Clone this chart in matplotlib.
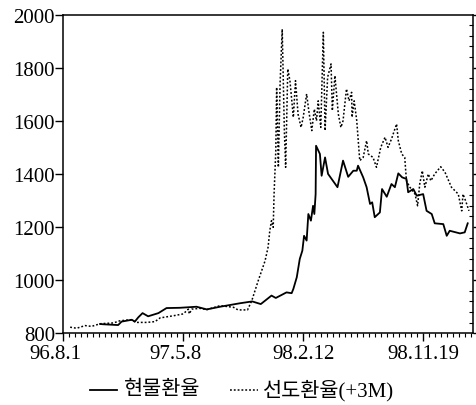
import matplotlib
matplotlib.use("Agg")
import matplotlib.pyplot as plt
from matplotlib.lines import Line2D
from matplotlib.transforms import ScaledTranslation
from matplotlib.ticker import MultipleLocator, FixedLocator

plt.rcParams['font.family'] = ['Liberation Serif', 'Noto Sans CJK KR']

# x positions are calendar days counted from 1996-08-01
tick_days = [0, 280, 560, 840]
tick_labels = ["96.8.1", "97.5.8", "98.2.12", "98.11.19"]

spot_name = "현물환율"
fwd_name = "선도환율(+3M)"

spot_days = [86, 93, 128, 136, 160, 167, 175, 185, 198, 222, 241, 272, 311, 335,
             366, 412, 441, 461, 486, 496, 521, 533, 537, 545, 552, 558, 562, 568,
             572, 578, 583, 586, 589, 590, 599, 603, 611, 618, 640, 653, 665, 677,
             685, 688, 700, 708, 716, 721, 727, 739, 744, 755, 766, 774, 782, 791,
             801, 805, 817, 825, 840, 848, 860, 867, 887, 895, 902, 926, 937, 944]
spot_rate = [835, 834, 831, 844, 851, 844, 860, 876, 864, 876, 895, 896, 900, 890,
             900, 913, 920, 910, 942, 933, 954, 951, 967, 1011, 1080, 1111, 1167, 1149,
             1249, 1224, 1280, 1249, 1324, 1506, 1475, 1393, 1462, 1400, 1350, 1450, 1389, 1412,
             1412, 1431, 1387, 1350, 1287, 1293, 1237, 1255, 1343, 1314, 1362, 1350, 1402, 1387,
             1381, 1331, 1343, 1318, 1324, 1261, 1249, 1214, 1211, 1167, 1186, 1176, 1180, 1214]

fwd_days = [16, 31, 51, 66, 86, 117, 132, 156, 171, 195, 214, 226, 257, 280, 292, 294,
            300, 319, 335, 366, 397, 408, 420, 430, 440, 455, 471, 478, 482, 486, 490,
            492, 496, 498, 502, 506, 511, 516, 519, 524, 529, 537, 542, 548, 555, 560,
            568, 573, 580, 586, 591, 595, 601, 607, 611, 617, 625, 628, 634, 642, 648,
            653, 661, 667, 673, 674, 679, 685, 692, 700, 708, 712, 723, 731, 741, 751,
            758, 766, 778, 782, 790, 797, 801, 809, 821, 827, 832, 838, 844, 852, 858,
            867, 881, 891, 906, 922, 930, 933, 939, 947]
fwd_rate = [823, 819, 829, 826, 836, 839, 847, 851, 841, 841, 844, 858, 866, 873, 891, 873,
            891, 894, 889, 904, 898, 888, 888, 888, 923, 998, 1073, 1124, 1186, 1224, 1199,
            1324, 1487, 1726, 1425, 1738, 1945, 1563, 1425, 1795, 1751, 1613, 1751, 1625, 1575, 1613,
            1701, 1638, 1563, 1644, 1600, 1675, 1575, 1933, 1563, 1764, 1814, 1638, 1770, 1625, 1575,
            1600, 1720, 1675, 1707, 1613, 1675, 1600, 1450, 1462, 1525, 1475, 1462, 1425, 1500, 1538,
            1500, 1531, 1588, 1525, 1475, 1462, 1374, 1350, 1324, 1280, 1362, 1412, 1350, 1400, 1374,
            1400, 1427, 1406, 1350, 1324, 1261, 1324, 1299, 1261]

W, H = 477, 406
fig = plt.figure(figsize=(W / 100, H / 100), dpi=100)
ax = fig.add_axes([0.1327, 0.1766, 0.8595, 0.7852])

solid_style = dict(color="black", lw=1.3)
dotted_style = dict(color="black", lw=1.1, linestyle=(0, (1.2, 1.3)))

ax.plot(spot_days, spot_rate, **solid_style)
ax.plot(fwd_days, fwd_rate, **dotted_style)

ax.set_xlim(0, 957)
ax.set_ylim(800, 2000)

ax.yaxis.set_major_locator(MultipleLocator(200))
ax.tick_params(axis="y", which="major", left=True, direction="out", length=6,
               width=1, labelsize=15, pad=0)
ax.tick_params(axis="y", which="major", right=True, labelright=False)
ax.yaxis.set_minor_locator(MultipleLocator(40))
ax.tick_params(axis="y", which="minor", left=False, right=True, direction="in",
               length=3, width=0.8)

ax.xaxis.set_major_locator(FixedLocator(tick_days))
ax.set_xticklabels(tick_labels)
ax.xaxis.set_minor_locator(MultipleLocator(14))
ax.tick_params(axis="x", which="major", direction="out", length=6, width=1,
               labelsize=15, pad=2)
ax.tick_params(axis="x", which="minor", direction="out", length=3, width=0.8)

# the two shorter date labels sit a little left of their ticks
nudge = ScaledTranslation(-8 / 100, 0, fig.dpi_scale_trans)
for lab in ax.get_xticklabels()[:2]:
    lab.set_transform(lab.get_transform() + nudge)

for s in ax.spines.values():
    s.set_linewidth(1.1)

# legend row under the axes, laid out in pixel coordinates
ly = (H - 391) / H
fig.add_artist(Line2D([90 / W, 117 / W], [ly, ly], transform=fig.transFigure, **solid_style))
fig.text(124 / W, ly, spot_name, fontsize=15, va="center", ha="left")
fig.add_artist(Line2D([230 / W, 258 / W], [ly, ly], transform=fig.transFigure, **dotted_style))
fig.text(263 / W, ly, fwd_name, fontsize=15, va="center", ha="left")

fig.savefig("out.png", dpi=100)
